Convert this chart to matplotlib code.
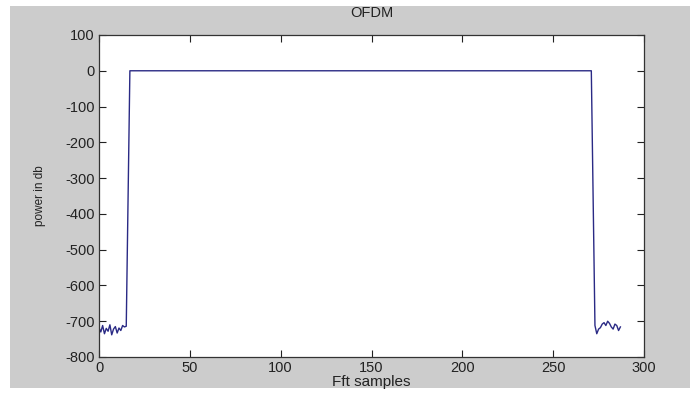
import matplotlib.pyplot as plt
import numpy as np
from matplotlib.patches import Rectangle

# power spectrum (dB), one value per FFT sample
left_noise = [-718, -730, -712, -735, -720, -728, -710, -738, -722,
              -715, -733, -719, -726, -712, -716, -714]
edge_level = -360
band_level = 0
band_len = 255
right_noise = [-712, -735, -722, -718, -708, -704, -712, -700, -706,
               -716, -722, -708, -712, -726, -716]

power = np.array(left_noise + [edge_level] + [band_level] * band_len
                 + [edge_level] + right_noise, dtype=float)
samples = np.arange(len(power))

x_ticks = [0, 50, 100, 150, 200, 250, 300]
y_ticks = [100, 0, -100, -200, -300, -400, -500, -600, -700, -800]

plt.rcParams['font.family'] = ['Liberation Sans', 'DejaVu Sans']
plt.rcParams['axes.unicode_minus'] = False

fig = plt.figure(figsize=(6.97, 3.94), dpi=100, facecolor='white')
# grey matlab-style window background
fig.patches.append(Rectangle((10 / 697, 6 / 394), 680 / 697, 382 / 394,
                             transform=fig.transFigure, facecolor='#cccccc',
                             edgecolor='none', zorder=-1))

ax = fig.add_axes([99 / 697, 37 / 394, 545 / 697, 322 / 394])
ax.plot(samples, power, color='#2a2a85', linewidth=1.0)

ax.set_xlim(0, 300)
ax.set_ylim(-800, 100)
ax.set_xticks(x_ticks)
ax.set_yticks(y_ticks)
ax.tick_params(direction='in', top=True, right=True, length=5,
               labelsize=10.5, colors='#222222', width=0.8, pad=3)
for s in ax.spines.values():
    s.set_linewidth(0.9)
    s.set_color('#333333')

ax.set_title('OFDM', fontsize=10.5, color='#222222', pad=13)
ax.set_xlabel('Fft samples', fontsize=11, color='#222222', labelpad=0)
ax.set_ylabel('power in db', fontsize=8.5, color='#222222', labelpad=14)

fig.savefig('out.png', dpi=100, facecolor=fig.get_facecolor())
